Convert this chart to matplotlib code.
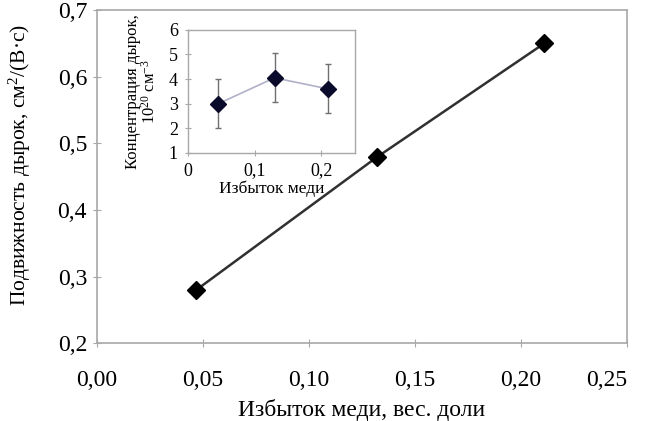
import matplotlib
matplotlib.use("Agg")
import matplotlib.pyplot as plt
from matplotlib.ticker import FuncFormatter

plt.rcParams['font.family'] = ['Liberation Serif', 'DejaVu Serif']
plt.rcParams['mathtext.fontset'] = 'custom'
plt.rcParams['mathtext.rm'] = 'Liberation Serif'
plt.rcParams['mathtext.it'] = 'Liberation Serif:italic'

# main plot: hole mobility vs copper excess
cu_excess = [0.047, 0.132, 0.211]
mobility = [0.28, 0.479, 0.650]

# inset: hole concentration vs copper excess
inset_x = [0.046, 0.130, 0.210]
inset_y = [3.0, 4.05, 3.6]
inset_err = [1.0, 1.0, 1.0]

gray = '#a8a8a8'

fig = plt.figure(figsize=(6.45, 4.21), dpi=100)
ax = fig.add_axes([0.150, 0.185, 0.822, 0.791])
ax.plot(cu_excess, mobility, color='#303030', lw=1.8, marker='D', ms=9,
        mfc='black', mec='black')
ax.set_xlim(0, 0.25)
ax.set_ylim(0.2, 0.7)
ax.set_xticks([0, 0.05, 0.10, 0.15, 0.20, 0.25])
ax.set_yticks([0.2, 0.3, 0.4, 0.5, 0.6, 0.7])
ax.xaxis.set_major_formatter(FuncFormatter(lambda v, p: f"{v:.2f}".replace('.', ',')))
ax.yaxis.set_major_formatter(FuncFormatter(lambda v, p: f"{v:.1f}".replace('.', ',')))
for s in ax.spines.values():
    s.set_color(gray)
    s.set_linewidth(1.2)
ax.tick_params(direction='inout', length=6, color=gray, labelsize=17)
ax.tick_params(axis='x', pad=16)
ax.tick_params(axis='y', pad=4)
ax.set_xlabel("Избыток меди, вес. доли", fontsize=17, labelpad=6)
ax.set_ylabel("Подвижность дырок, см$^2$/(В·с)", fontsize=15.5)
ax.yaxis.set_label_coords(-0.12, 0.535)
# keep the last x label inside the figure
fig.canvas.draw()
ax.get_xticklabels()[-1].set_horizontalalignment('right')

# inset
ins = fig.add_axes([0.291, 0.637, 0.259, 0.292])
ins.errorbar(inset_x, inset_y, yerr=inset_err, color='#b0b0c8', lw=1.2,
             marker='D', ms=8, mfc='#0a0a2a', mec='#0a0a2a',
             ecolor='#707070', elinewidth=1, capsize=2)
ins.set_xlim(0, 0.25)
ins.set_ylim(1, 6)
ins.set_xticks([0, 0.1, 0.2])
ins.set_yticks([1, 2, 3, 4, 5, 6])
ins.xaxis.set_major_formatter(FuncFormatter(lambda v, p: "0" if v == 0 else f"{v:.1f}".replace('.', ',')))
for s in ins.spines.values():
    s.set_color(gray)
    s.set_linewidth(1.0)
ins.tick_params(direction='inout', length=4, color=gray, labelsize=13)
ins.tick_params(axis='x', pad=5)
ins.tick_params(axis='y', pad=5)
ins.set_xlabel("Избыток меди", fontsize=12.5, labelpad=1)
ins.set_ylabel("Концентрация дырок,\n10$^{20}$ см$^{-3}$", fontsize=12,
               labelpad=7, linespacing=1.05)

fig.savefig("out.png", dpi=100)
